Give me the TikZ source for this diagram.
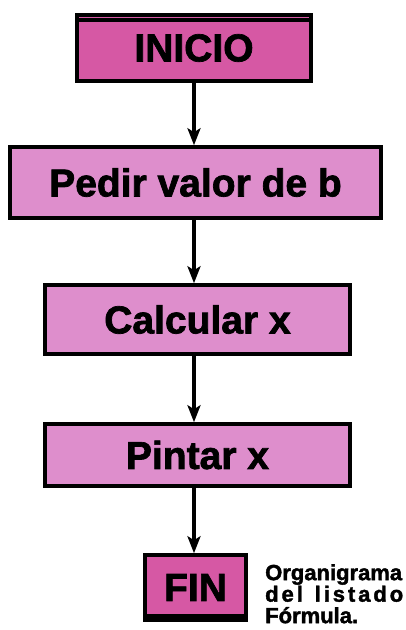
\documentclass[tikz,border=0pt]{standalone}
\usepackage{fontspec}
\setmainfont{Liberation Sans}[BoldFeatures={FakeBold=1.8}]
\usetikzlibrary{shapes.geometric, arrows, arrows.meta}
\definecolor{rosaoscuro}{RGB}{214,88,164}
\definecolor{rosaclaro}{RGB}{222,142,204}
\tikzstyle{caja} = [rectangle, line width=3.5pt, draw=black, text centered, inner sep=0pt, font=\bfseries\fontsize{39}{40}\selectfont]
\tikzstyle{terminal} = [caja, fill=rosaoscuro]
\tikzstyle{proceso} = [caja, fill=rosaclaro]
\tikzstyle{arrow} = [line width=3.5pt,-{Stealth[length=17pt,width=13pt,inset=4pt]}]
\tikzstyle{raya} = [line width=3.5pt]

\begin{document}
\begin{tikzpicture}[x=1pt,y=-1pt]
\useasboundingbox (0,0) rectangle (406,630);
\node[terminal, minimum width=234pt, minimum height=66pt] (inicio) at (194,48) {INICIO};
\node[proceso, minimum width=371pt, minimum height=71pt] (pedir) at (195.5,182.5) {Pedir valor de b};
\node[proceso, minimum width=305pt, minimum height=69pt] (calcular) at (197.5,319.5) {Calcular x};
\node[proceso, minimum width=305pt, minimum height=62pt] (pintar) at (197.5,455) {Pintar x};
\node[terminal, minimum width=101pt, minimum height=65pt] (fin) at (195.5,587.5) {FIN};
\node[anchor=north west, inner sep=0pt, align=left, font=\bfseries\fontsize{22}{21.5}\selectfont] (pie) at (265,564)
	{Organigrama\\ \makebox[138pt][s]{d\hfill e\hfill l\hfill\hspace{6pt}\hfill l\hfill i\hfill s\hfill t\hfill a\hfill d\hfill o}\\ F\'ormula.};
% rayas de principio y fin
\draw[raya] ([yshift=-6.5pt]inicio.north west) -- ([yshift=-6.5pt]inicio.north east);
\draw[raya] ([yshift=6pt]fin.south west) -- ([yshift=6pt]fin.south east);
% flechas
\foreach \a/\b in {inicio/pedir,pedir/calcular,calcular/pintar,pintar/fin}{
	\draw[arrow] (\a.south -| inicio.south) -- (\b.north -| inicio.south);
}
\end{tikzpicture}
\end{document}
